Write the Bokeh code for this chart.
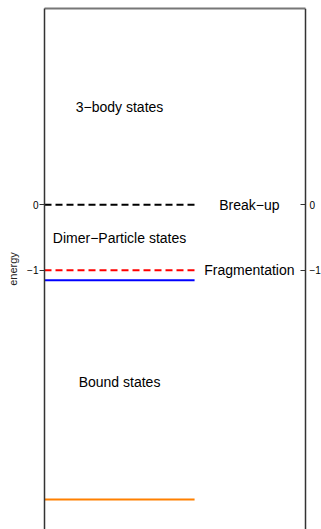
from bokeh.plotting import figure
from bokeh.models import Range1d, LinearAxis, FixedTicker, ColumnDataSource
from bokeh.core.properties import value
from bokeh.embed import file_html
from bokeh.resources import INLINE

# Data
level_energy = [0.0, -1.0, -1.15, -4.5]
level_color = ["black", "red", "blue", "#ff8000"]
level_dash = ["7 4", "7 4", "solid", "solid"]
line_x0 = 0.0
line_x1 = 0.575

threshold_labels = ["Break\u2212up", "Fragmentation"]
threshold_energy = [0.0, -1.0]

region_labels = ["3\u2212body states", "Dimer\u2212Particle states", "Bound states"]
region_energy = [1.5, -0.5, -2.7]

tick_values = [0, -1]
tick_labels = {0: "0", -1: "\u22121"}

X_MIN, X_BOX = 0.0, 1.0      # plotting box spans 0..1
X_VIEW = 1.0613              # extra view room to the right for the right-hand tick labels
FONT = "Liberation Sans"

p = figure(width=321, height=529, output_backend="svg", toolbar_location=None,
           x_range=Range1d(X_MIN, X_VIEW), y_range=Range1d(-4.96, 3.0),
           min_border_left=44, min_border_right=0, min_border_top=8, min_border_bottom=0,
           x_axis_location=None, y_axis_location="left")
p.outline_line_color = None
p.xgrid.visible = False
p.ygrid.visible = False
p.background_fill_color = "white"
p.border_fill_color = "white"

for e, c, d in zip(level_energy, level_color, level_dash):
    p.line([line_x0, line_x1], [e, e], line_color=c, line_width=2, line_dash=d)

src_t = ColumnDataSource(dict(x=[0.785] * len(threshold_labels), y=threshold_energy, t=threshold_labels))
p.text("x", "y", text="t", source=src_t, text_align="center", text_baseline="middle",
       text_font=value(FONT), text_font_size="14px", text_color="black")

src_r = ColumnDataSource(dict(x=[line_x1 / 2] * len(region_labels), y=region_energy, t=region_labels))
p.text("x", "y", text="t", source=src_r, text_align="center", text_baseline="middle",
       text_font=value(FONT), text_font_size="14px", text_color="black")

def style_axis(ax):
    ax.ticker = FixedTicker(ticks=tick_values)
    ax.major_label_overrides = tick_labels
    ax.minor_tick_line_color = None
    ax.minor_tick_out = 0
    ax.major_tick_in = 0
    ax.major_tick_out = 5
    ax.axis_line_color = "#333333"
    ax.axis_line_width = 1.5
    ax.major_tick_line_color = "#333333"
    ax.major_label_text_font = FONT
    ax.major_label_text_font_size = "10px"
    ax.major_label_text_color = "black"
    ax.major_label_standoff = 1

ly = p.yaxis[0]
style_axis(ly)
ly.axis_label = "energy"
ly.axis_label_text_font = FONT
ly.axis_label_text_font_size = "11px"
ly.axis_label_text_font_style = "normal"
ly.axis_label_text_color = "#222222"
ly.axis_label_standoff = 5

ry = LinearAxis(fixed_location=X_BOX)
style_axis(ry)
ry.major_tick_in = 5
ry.major_tick_out = 0
ry.major_label_standoff = 4
p.add_layout(ry, "right")

top = LinearAxis(ticker=FixedTicker(ticks=[]), bounds=(X_MIN, X_BOX))
top.axis_line_color = "#777777"
top.axis_line_width = 2
top.major_tick_line_color = None
top.minor_tick_line_color = None
top.major_tick_out = 0
top.minor_tick_out = 0
top.major_label_text_font_size = "0px"
p.add_layout(top, "above")

open("out.html", "w").write(file_html(p, INLINE))
